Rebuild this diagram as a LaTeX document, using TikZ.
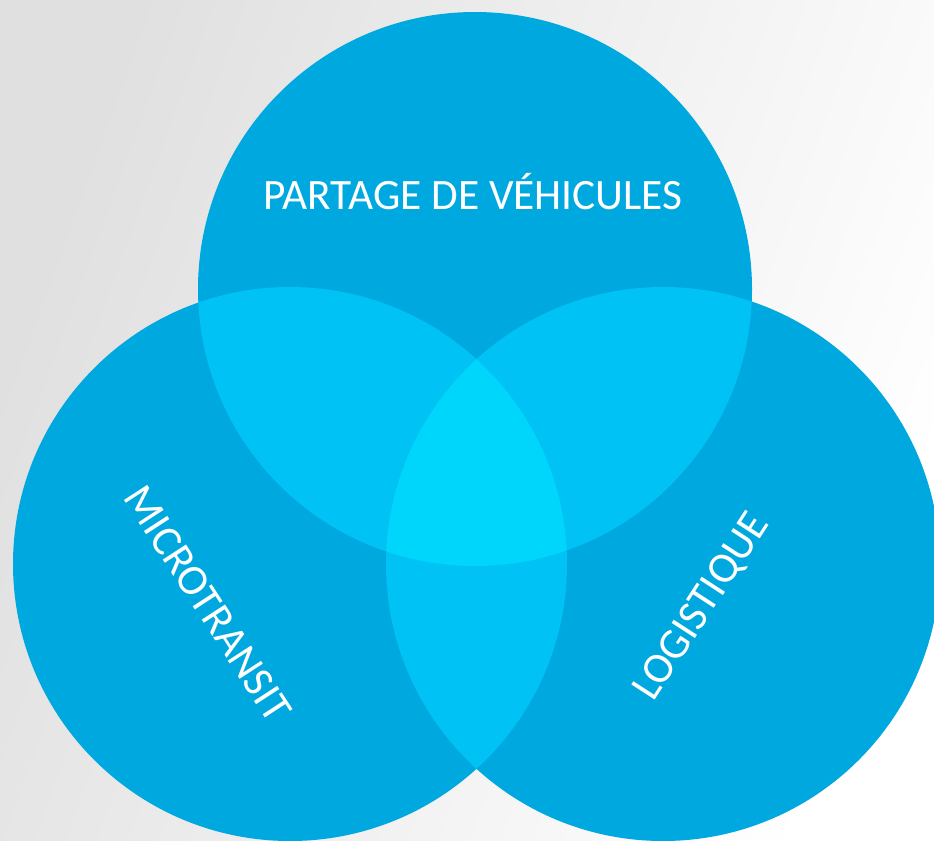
\documentclass[tikz,border=0pt]{standalone}
\usepackage{fontspec}
\setmainfont{Carlito}
\definecolor{oneblue}{HTML}{00A8E0}
\definecolor{twoblue}{HTML}{00C2F5}
\definecolor{threeblue}{HTML}{00D6FC}
\definecolor{bggray}{HTML}{E0E0E0}
\tikzset{
  label text/.style={text=white, font=\fontsize{32.5}{38}\selectfont, inner sep=0pt}
}
\begin{document}
\begin{tikzpicture}[x=0.75pt,y=-0.75pt]
        % background
        \shade[left color=bggray, right color=white, shading angle=70] (0,0) rectangle (934,840);
        \useasboundingbox (0,0) rectangle (934,840);
        \coordinate (ctop) at (475,289);
        \coordinate (cleft) at (290,564);
        \coordinate (cright) at (663,564);
        %% circles
        \fill[oneblue] (ctop) circle (277);
        \fill[oneblue] (cleft) circle (277);
        \fill[oneblue] (cright) circle (277);
        %% overlaps
        \begin{scope}
          \clip (ctop) circle (277);
          \fill[twoblue] (cleft) circle (277);
          \fill[twoblue] (cright) circle (277);
        \end{scope}
        \begin{scope}
          \clip (cleft) circle (277);
          \fill[twoblue] (cright) circle (277);
        \end{scope}
        \begin{scope}
          \clip (ctop) circle (277);
          \clip (cleft) circle (277);
          \fill[threeblue] (cright) circle (277);
        \end{scope}
        %% labels
        \node[label text] (partage) at (473,192) {PARTAGE DE VÉHICULES};
        \node[label text, rotate=-57] (micro) at (208,604) {MICROTRANSIT};
        \node[label text, rotate=57] (logis) at (702,607) {LOGISTIQUE};
\end{tikzpicture}
\end{document}
